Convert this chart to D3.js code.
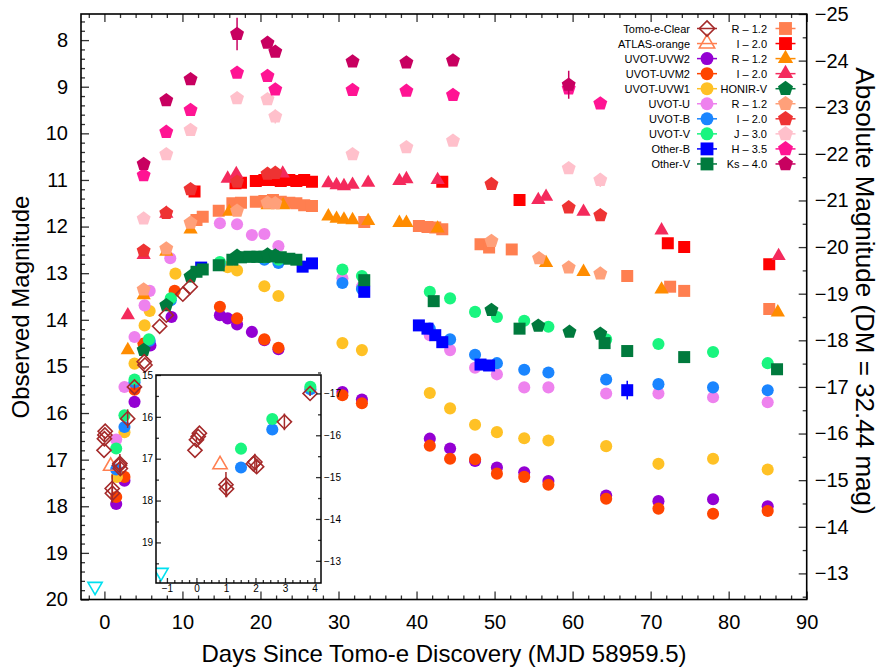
<!DOCTYPE html>
<html>
<head>
<meta charset="utf-8">
<script src="https://cdn.jsdelivr.net/npm/d3@7"></script>
<style>
body { margin: 0; background: #fff; }
svg { display: block; }
text { font-family: "Liberation Sans", Arial, Helvetica, sans-serif; }
</style>
</head>
<body>
<svg id="chart" width="880" height="669"></svg>
<script>

// ---- data: [days since discovery, observed mag, (error)] ----
const limitCyan = [[-1.2, 19.72]];
const tomoeClear = [[-0.05,16.80],[0.0,16.55,0.05],[0.06,16.47],[0.1,16.39],[1.0,17.62,0.3],[1.02,17.72,0.2],
  [1.93,17.12],[1.98,17.08,0.2],[2.04,17.19,0.15],[2.98,16.12,0.2],[3.85,15.44,0.06],[5.1,14.9],[5.2,14.97],
  [7.08,14.14],[7.93,13.9],[10.05,13.45],[11.0,13.29]];
const atlasOrange = [[0.8,17.14]];
const uvw2 = [[1.51,17.95],[2.57,17.45],[3.86,15.76],[5.9,14.55],[8.6,13.94],[14.8,13.9],[15.8,13.97],[17.0,14.1],
  [18.9,14.26],[20.5,14.44],[22.3,14.63],[30.5,15.55],[33.0,15.71],[41.7,16.55],[44.3,16.76],[47.5,17.03],
  [50.3,17.17],[53.8,17.27],[56.9,17.46],[64.3,17.77],[71.0,17.89],[78.0,17.85],[85.0,18.0]];
const uvm2 = [[1.51,17.8],[2.57,17.37],[3.86,15.5],[5.0,14.51],[9.0,13.38],[14.8,13.72],[17.0,13.97],[20.5,14.42],
  [22.3,14.6],[30.5,15.62],[33.0,15.79],[41.7,16.7],[44.3,16.98],[47.5,16.99],[50.3,17.3],[53.8,17.37],
  [56.9,17.54],[64.3,17.84],[71.0,18.05],[78.0,18.16],[85.0,18.1]];
const uvw1 = [[1.6,17.37],[2.57,16.41],[3.86,14.94],[5.15,14.12],[5.8,13.81],[9.1,13.01],[15.8,12.87],[17.0,12.94],
  [20.5,13.28],[22.3,13.49],[30.5,14.5],[33.0,14.65],[41.7,15.57],[44.3,15.9],[47.5,16.25],[50.3,16.41],
  [53.8,16.54],[56.9,16.59],[64.3,16.71],[71.0,17.09],[78.0,16.98],[85.0,17.21]];
const uvotU = [[1.51,16.57],[2.57,15.44],[3.86,14.37],[5.15,13.69],[5.8,13.38],[8.44,12.68],[14.8,11.93],[17.0,11.95],
  [18.9,12.18],[20.5,12.16],[22.3,12.42],[30.5,13.11],[33.0,13.29],[41.7,14.33],[44.3,14.65],[47.5,15.03],
  [50.3,15.17],[53.8,15.45],[56.9,15.45],[64.3,15.58],[71.0,15.58],[78.0,15.66],[85.0,15.77]];
const uvotB = [[1.51,17.21],[2.57,16.3],[3.86,15.34],[5.8,14.45],[8.5,13.58],[14.8,12.8],[20.5,12.71],[22.3,12.78],
  [30.5,13.21],[33.0,13.34],[41.7,14.19],[44.3,14.42],[47.5,14.75],[50.3,14.93],[53.8,15.07],[56.9,15.13],
  [64.3,15.28],[71.0,15.38],[78.0,15.45],[85.0,15.51]];
const uvotV = [[1.51,16.76],[2.57,16.05],[3.86,15.28],[5.7,14.42],[8.5,13.54],[14.8,12.76],[20.5,12.66],[22.3,12.71],
  [30.5,12.92],[33.0,13.06],[41.7,13.4],[44.3,13.54],[47.5,13.83],[50.3,13.94],[53.8,14.02],[56.9,14.15],
  [64.3,14.42],[71.0,14.52],[78.0,14.69],[85.0,14.93]];
const otherB = [[12.4,12.88],[25.4,12.86],[26.6,12.79],[33.3,13.4],[40.3,14.12],[41.4,14.19],[42.4,14.33],[43.3,14.48],
  [48.2,14.96],[49.3,14.98],[67.0,15.51,0.2]];
const otherV = [[11.8,12.97],[12.6,12.92],[14.65,12.83],[16.4,12.71],[17.5,12.66],[18.6,12.65],[19.6,12.65],[20.5,12.65],
  [21.6,12.64],[22.6,12.66],[23.7,12.69],[24.6,12.71],[33.3,13.15],[42.2,13.6],[53.2,14.19],[64.1,14.5],
  [67.0,14.67],[74.3,14.8],[86.2,15.06]];
const otherR = [[11.8,11.86],[12.6,11.79],[14.65,11.66],[16.4,11.5],[17.5,11.49],[19.4,11.47],[20.5,11.45],[21.6,11.43],
  [22.6,11.47],[23.7,11.49],[24.6,11.5],[25.6,11.54],[26.6,11.56],[33.3,11.9],[40.3,11.99],[41.4,12.01],
  [42.4,12.02],[43.3,12.06],[48.2,12.38],[49.3,12.45],[52.2,12.49],[67.0,13.06],[72.5,13.29],[74.3,13.38],[85.2,13.77]];
const otherI = [[11.55,11.25],[16.8,11.07],[17.5,11.06],[19.4,11.02],[20.5,11.0],[21.6,11.0],[22.6,11.02],[23.7,11.0],
  [24.6,11.02],[25.6,11.0],[26.6,11.04],[43.3,11.04],[53.2,11.43],[72.2,12.36],[74.3,12.44],[85.2,12.81]];
const triR = [[3.0,14.65],[5.03,13.47],[7.93,12.54],[11.04,12.06],[16.0,11.68],[20.9,11.54],[22.9,11.54],[28.7,11.78],
  [29.75,11.83],[30.7,11.85],[31.8,11.86],[33.8,11.88],[37.8,11.92],[38.7,11.92],[42.7,12.04],[56.6,12.78],
  [61.4,12.97],[71.4,13.35],[86.3,13.84]];
const triI = [[3.0,13.9],[5.03,12.61],[7.93,11.72],[15.8,10.97],[16.9,10.87],[22.85,10.86],[28.7,11.07],[29.75,11.11],
  [30.7,11.13],[31.8,11.1],[33.8,11.06],[37.8,11.02],[38.7,10.98],[42.7,11.0],[55.6,11.43],[56.6,11.36],
  [61.4,11.68],[71.4,12.08],[86.4,12.63]];
const honirV = [[5.03,14.65],[7.93,13.69],[11.04,13.07],[17.0,12.63],[20.9,12.6],[21.9,12.62],[49.6,13.79],[55.6,14.13],
  [59.6,14.26],[63.55,14.3]];
const honirR = [[5.03,13.35],[7.93,12.47],[11.04,11.92],[17.0,11.66],[20.9,11.49],[21.9,11.5],[49.6,12.31],[55.7,12.68],
  [59.5,12.88],[63.55,13.01]];
const honirI = [[5.03,12.52],[7.93,11.71],[11.04,11.2],[17.0,11.04],[20.9,10.87],[21.9,10.85],[49.6,11.09],[59.5,11.59],
  [63.55,11.76]];
const honirJ = [[5.03,11.83],[7.93,10.45],[11.04,9.93],[17.0,9.25],[20.9,9.27],[21.9,9.64,0.15],[31.8,10.45],[38.7,10.3],
  [44.67,10.16],[59.5,10.75],[63.55,11.0,0.15]];
const honirH = [[5.03,10.9,0.12],[7.93,9.97],[11.04,9.5],[17.0,8.7],[20.9,8.77],[21.9,9.06],[31.8,9.07],[38.7,9.09],
  [44.67,9.18],[59.5,9.04],[63.55,9.36]];
const honirKs = [[5.03,10.66,0.1],[7.93,9.29],[11.04,8.84],[17.0,7.87,0.35],[20.9,8.06],[21.9,8.25],[31.8,8.46],
  [38.7,8.48],[44.67,8.44],[59.5,8.96,0.3]];

const DM = 32.44;
const xTicks = d3.range(0, 91, 10);
const yTicks = d3.range(8, 21, 1);
const absTicks = d3.range(-25, -12, 1);

// ---- custom symbols ----
const symPentagon = {
  draw(c, s) {
    const r = Math.sqrt(s / 2.3776);
    for (let i = 0; i < 5; i++) {
      const a = -Math.PI / 2 + i * 2 * Math.PI / 5;
      if (i) c.lineTo(r * Math.cos(a), r * Math.sin(a)); else c.moveTo(r * Math.cos(a), r * Math.sin(a));
    }
    c.closePath();
  }
};
const symDiamond = {
  draw(c, s) {
    const r = Math.sqrt(s / 2);
    c.moveTo(0, -r); c.lineTo(r, 0); c.lineTo(0, r); c.lineTo(-r, 0); c.closePath();
  }
};
const shapes = {
  circle: [d3.symbolCircle, 115],
  square: [d3.symbolSquare, 144],
  triangle: [d3.symbolTriangle, 88],
  tridown: [d3.symbolTriangle, 88],
  pentagon: [symPentagon, 128],
  diamond: [symDiamond, 100]
};

// draw order = list order; col/row = legend slot
const series = [
  {name: "UVOT-UVW2", data: uvw2, shape: "circle", color: "#9400d3", col: 0, row: 2},
  {name: "UVOT-UVM2", data: uvm2, shape: "circle", color: "#ff4500", col: 0, row: 3},
  {name: "UVOT-UVW1", data: uvw1, shape: "circle", color: "#ffc125", col: 0, row: 4},
  {name: "UVOT-U", data: uvotU, shape: "circle", color: "#ee82ee", col: 0, row: 5},
  {name: "UVOT-B", data: uvotB, shape: "circle", color: "#1a85ff", col: 0, row: 6, inset: true},
  {name: "UVOT-V", data: uvotV, shape: "circle", color: "#19f57f", col: 0, row: 7, inset: true},
  {name: "Other-B", data: otherB, shape: "square", color: "#0000ff", col: 0, row: 8},
  {name: "Other-V", data: otherV, shape: "square", color: "#007a3d", col: 0, row: 9},
  {name: "R \u2013 1.2", data: otherR, shape: "square", color: "#ff7f50", col: 1, row: 0},
  {name: "I \u2013 2.0", data: otherI, shape: "square", color: "#ff0000", col: 1, row: 1},
  {name: "R \u2013 1.2", data: triR, shape: "triangle", color: "#ff8c00", col: 1, row: 2},
  {name: "I \u2013 2.0", data: triI, shape: "triangle", color: "#f42a5c", col: 1, row: 3},
  {name: "HONIR-V", data: honirV, shape: "pentagon", color: "#007a3d", col: 1, row: 4},
  {name: "R \u2013 1.2", data: honirR, shape: "pentagon", color: "#ffa07a", col: 1, row: 5},
  {name: "I \u2013 2.0", data: honirI, shape: "pentagon", color: "#ee3333", col: 1, row: 6},
  {name: "J \u2013 3.0", data: honirJ, shape: "pentagon", color: "#ffc0cb", col: 1, row: 7},
  {name: "H \u2013 3.5", data: honirH, shape: "pentagon", color: "#ff1493", col: 1, row: 8},
  {name: "Ks \u2013 4.0", data: honirKs, shape: "pentagon", color: "#c80060", col: 1, row: 9},
  {name: "ATLAS-orange", data: atlasOrange, shape: "triangle", color: "#ff7f50", open: true, col: 0, row: 1, inset: true},
  {name: "Tomo-e-Clear", data: tomoeClear, shape: "diamond", color: "#a52a2a", open: true, col: 0, row: 0, inset: true},
  {name: "limit", data: limitCyan, shape: "tridown", color: "#00e0f0", open: true, inset: true}
];

const svg = d3.select("#chart");
const X0 = 81, X1 = 806.7, Y0 = 14, Y1 = 599.5;
const x = d3.scaleLinear().domain([-3, 90]).range([X0, X1]);
const y = d3.scaleLinear().domain([7.44, 20]).range([Y0, Y1]);
const yAbs = d3.scaleLinear().domain([7.44 - DM, 20 - DM]).range([Y0, Y1]);

function drawSeries(g, s, xs, ys) {
  const [a, b] = xs.domain(), [c, e] = ys.domain();
  const pts = s.data.filter(d => d[0] >= a && d[0] <= b && d[1] >= c && d[1] <= e);
  g.append("g").selectAll("line").data(pts.filter(d => d[2])).join("line")
    .attr("x1", d => xs(d[0])).attr("x2", d => xs(d[0]))
    .attr("y1", d => ys(d[1] - d[2])).attr("y2", d => ys(d[1] + d[2]))
    .attr("stroke", s.color).attr("stroke-width", 1.5);
  const sym = shapes[s.shape];
  g.append("g").selectAll("path").data(pts).join("path")
    .attr("transform", d => `translate(${xs(d[0])},${ys(d[1])})` + (s.shape === "tridown" ? " rotate(180)" : ""))
    .attr("d", d3.symbol(sym[0], sym[1]))
    .attr("fill", s.open ? "none" : s.color)
    .attr("stroke", s.open ? s.color : "none")
    .attr("stroke-width", 1.6);
}

// ---- main plot ----
svg.append("clipPath").attr("id", "clipMain").append("rect")
  .attr("x", X0).attr("y", Y0).attr("width", X1 - X0).attr("height", Y1 - Y0);
const plotG = svg.append("g").attr("clip-path", "url(#clipMain)");
series.forEach(s => drawSeries(plotG, s, x, y));

function styleAxis(g, size) {
  g.select(".domain").remove();
  g.selectAll(".tick line").attr("stroke", "#333").attr("stroke-width", 1.3);
  g.selectAll("text").attr("font-size", size).attr("fill", "#000")
    .attr("font-family", "'Liberation Sans', Arial, sans-serif");
}
const notInt = v => Math.abs(v - Math.round(v)) > 0.01;
const fmt = d3.format("d");

// left
svg.append("g").attr("transform", `translate(${X0},0)`)
  .call(d3.axisLeft(y).tickValues(yTicks).tickSize(-8).tickSizeOuter(0).tickPadding(13).tickFormat(fmt))
  .call(g => styleAxis(g, 20));
svg.append("g").attr("transform", `translate(${X0},0)`)
  .call(d3.axisLeft(y).tickValues(d3.range(7.6, 20, 0.2).filter(notInt)).tickSize(-4).tickFormat(""))
  .call(g => styleAxis(g, 20));
// right (absolute)
svg.append("g").attr("transform", `translate(${X1},0)`)
  .call(d3.axisRight(yAbs).tickValues(absTicks).tickSize(-8).tickSizeOuter(0).tickPadding(8).tickFormat(fmt))
  .call(g => styleAxis(g, 20));
svg.append("g").attr("transform", `translate(${X1},0)`)
  .call(d3.axisRight(yAbs).tickValues(d3.range(-24.5, -12.4, 1)).tickSize(-4).tickFormat(""))
  .call(g => styleAxis(g, 20));
// bottom
svg.append("g").attr("transform", `translate(0,${Y1})`)
  .call(d3.axisBottom(x).tickValues(xTicks).tickSize(-8).tickSizeOuter(0).tickPadding(15).tickFormat(fmt))
  .call(g => styleAxis(g, 20));
svg.append("g").attr("transform", `translate(0,${Y1})`)
  .call(d3.axisBottom(x).tickValues(d3.range(-2, 90, 2).filter(v => v % 10 !== 0)).tickSize(-4).tickFormat(""))
  .call(g => styleAxis(g, 20));
// top
svg.append("g").attr("transform", `translate(0,${Y0})`)
  .call(d3.axisTop(x).tickValues(xTicks).tickSize(-8).tickFormat(""))
  .call(g => styleAxis(g, 20));
svg.append("g").attr("transform", `translate(0,${Y0})`)
  .call(d3.axisTop(x).tickValues(d3.range(-2, 90, 2).filter(v => v % 10 !== 0)).tickSize(-4).tickFormat(""))
  .call(g => styleAxis(g, 20));

svg.append("rect").attr("x", X0).attr("y", Y0).attr("width", X1 - X0).attr("height", Y1 - Y0)
  .attr("fill", "none").attr("stroke", "#000").attr("stroke-width", 1.6);

// titles
svg.append("text").attr("x", 444).attr("y", 662).attr("text-anchor", "middle")
  .attr("font-size", 24).text("Days Since Tomo-e Discovery (MJD 58959.5)");
svg.append("text").attr("transform", "translate(29,307) rotate(-90)").attr("text-anchor", "middle")
  .attr("font-size", 24).text("Observed Magnitude");
svg.append("text").attr("transform", "translate(856,291) rotate(90)").attr("text-anchor", "middle")
  .attr("font-size", 26).text("Absolute Magnitude (DM = 32.44 mag)");

// ---- inset ----
const IX0 = 156, IX1 = 321, IY0 = 375, IY1 = 583;
const xi = d3.scaleLinear().domain([-1.37, 4.22]).range([IX0, IX1]);
const yi = d3.scaleLinear().domain([15, 19.97]).range([IY0, IY1]);
const yiAbs = d3.scaleLinear().domain([15 - DM, 19.97 - DM]).range([IY0, IY1]);
svg.append("rect").attr("x", IX0).attr("y", IY0).attr("width", IX1 - IX0).attr("height", IY1 - IY0).attr("fill", "#fff");
svg.append("clipPath").attr("id", "clipInset").append("rect")
  .attr("x", IX0).attr("y", IY0).attr("width", IX1 - IX0).attr("height", IY1 - IY0);
const insetG = svg.append("g").attr("clip-path", "url(#clipInset)");
series.filter(s => s.inset).forEach(s => drawSeries(insetG, s, xi, yi));

svg.append("g").attr("transform", `translate(${IX0},0)`)
  .call(d3.axisLeft(yi).tickValues(d3.range(15, 20, 1)).tickSize(-5).tickSizeOuter(0).tickPadding(3).tickFormat(fmt))
  .call(g => styleAxis(g, 10))
  .call(g => g.selectAll("text").attr("text-anchor", "end"));
svg.append("g").attr("transform", `translate(${IX0},0)`)
  .call(d3.axisLeft(yi).tickValues(d3.range(15.5, 20, 1)).tickSize(-3).tickFormat(""))
  .call(g => styleAxis(g, 10));
svg.append("g").attr("transform", `translate(${IX1},0)`)
  .call(d3.axisRight(yiAbs).tickValues(d3.range(-17, -12, 1)).tickSize(-5).tickSizeOuter(0).tickPadding(3).tickFormat(fmt))
  .call(g => styleAxis(g, 10))
  .call(g => g.selectAll("text").attr("text-anchor", "start"));
svg.append("g").attr("transform", `translate(${IX1},0)`)
  .call(d3.axisRight(yiAbs).tickValues(d3.range(-17.5, -12.5, 1)).tickSize(-3).tickFormat(""))
  .call(g => styleAxis(g, 10));
svg.append("g").attr("transform", `translate(0,${IY1})`)
  .call(d3.axisBottom(xi).tickValues(d3.range(-1, 5, 1)).tickSize(-5).tickSizeOuter(0).tickPadding(2).tickFormat(fmt))
  .call(g => styleAxis(g, 10));
svg.append("g").attr("transform", `translate(0,${IY1})`)
  .call(d3.axisBottom(xi).tickValues(d3.range(-1.25, 4.2, 0.25).filter(notInt)).tickSize(-3).tickFormat(""))
  .call(g => styleAxis(g, 10));
svg.append("rect").attr("x", IX0).attr("y", IY0).attr("width", IX1 - IX0).attr("height", IY1 - IY0)
  .attr("fill", "none").attr("stroke", "#000").attr("stroke-width", 1.5);

// ---- legend ----
const legCols = [{tx: 690, mx: 707}, {tx: 767, mx: 785.5}];
const legY0 = 28.5, legDY = 15.05;
const legG = svg.append("g");
series.filter(s => s.row !== undefined).forEach(s => {
  const c = legCols[s.col], ly = legY0 + s.row * legDY;
  legG.append("text").attr("x", c.tx).attr("y", ly + 4).attr("text-anchor", "end")
    .attr("font-size", 11).text(s.name);
  legG.append("line").attr("x1", c.mx - 10).attr("x2", c.mx + 10).attr("y1", ly).attr("y2", ly)
    .attr("stroke", s.color).attr("stroke-width", 1.5);
  const sym = shapes[s.shape];
  legG.append("path").attr("transform", `translate(${c.mx},${ly})`)
    .attr("d", d3.symbol(sym[0], sym[1] * 1.15))
    .attr("fill", s.open ? "none" : s.color)
    .attr("stroke", s.open ? s.color : "none").attr("stroke-width", 1.6);
});
</script>
</body>
</html>
